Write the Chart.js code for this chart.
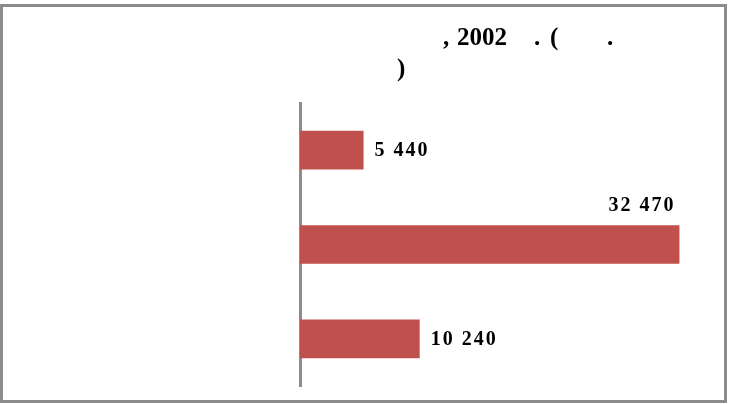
<!DOCTYPE html>
<html>
<head>
<meta charset="utf-8">
<script src="https://cdn.jsdelivr.net/npm/chart.js@4/dist/chart.umd.min.js"></script>
<style>
    body { margin: 0; background: #fff; }
    #box {
        position: absolute; left: 0; top: 4px;
        width: 721px; height: 393px;
        border: 3px solid #8c8c8c;
        background: #fff;
    }
    #chart { display: block; }
</style>
</head>
<body>
<div id="box"><canvas id="chart" width="721" height="393"></canvas></div>
<script>
// categories lost their glyphs in the picture, so they stay empty
const categories = ['', '', ''];
const values = [5440, 32470, 10240];
const valueLabels = ['5 440', '32 470', '10 240'];
// title pieces that survived (the Cyrillic words did not render)
const titleLine1 = [',', '2002', '.', '(', '.'];
const titleLine2 = [')'];

const labelFont = 'bold 20px "Liberation Serif", "DejaVu Serif", serif';

// title drawn piece by piece where the visible glyphs sit
const titlePlugin = {
    id: 'titleLines',
    afterDraw(chart) {
        const ctx = chart.ctx;
        const xs1 = [440, 454, 531, 547, 604];
        ctx.save();
        ctx.font = 'bold 25px "Liberation Serif", "DejaVu Serif", serif';
        ctx.fillStyle = '#000';
        ctx.textBaseline = 'middle';
        titleLine1.forEach(function(t, i) { ctx.fillText(t, xs1[i], 32); });
        ctx.fillText(titleLine2[0], 394, 63);
        ctx.restore();
    }
};

// value labels: right of the bar, or above its end when there is no room
const valuePlugin = {
    id: 'valueLabels',
    afterDatasetsDraw(chart) {
        const ctx = chart.ctx;
        const meta = chart.getDatasetMeta(0);
        ctx.save();
        ctx.font = labelFont;
        ctx.letterSpacing = '2px';
        ctx.fillStyle = '#000';
        meta.data.forEach(function(bar, i) {
            const text = valueLabels[i];
            const w = ctx.measureText(text).width;
            if (bar.x + 11 + w > chart.chartArea.right) {
                ctx.textAlign = 'right';
                ctx.textBaseline = 'alphabetic';
                ctx.fillText(text, bar.x - 4, bar.y - bar.height / 2 - 14);
            } else {
                ctx.textAlign = 'left';
                ctx.textBaseline = 'middle';
                ctx.fillText(text, bar.x + 11, bar.y + 1);
            }
        });
        ctx.restore();
    }
};

const ctx = document.getElementById('chart').getContext('2d');
new Chart(ctx, {
    type: 'bar',
    data: {
        labels: categories,
        datasets: [{
            data: values,
            backgroundColor: '#c0504d',
            borderWidth: 0,
            barPercentage: 0.41,
            categoryPercentage: 1.0,
        }]
    },
    options: {
        indexAxis: 'y',
        responsive: false,
        animation: false,
        layout: {
            padding: { left: 297, right: 15, top: 96, bottom: 14 }
        },
        plugins: {
            legend: { display: false },
            title: { display: false },
            tooltip: { enabled: false },
        },
        scales: {
            x: {
                display: false,
                min: 0,
                max: 35000,
            },
            y: {
                ticks: { display: false },
                grid: { display: false, drawTicks: false },
                border: { display: true, color: '#8c8c8c', width: 3 },
            }
        }
    },
    plugins: [titlePlugin, valuePlugin]
});
</script>
</body>
</html>
